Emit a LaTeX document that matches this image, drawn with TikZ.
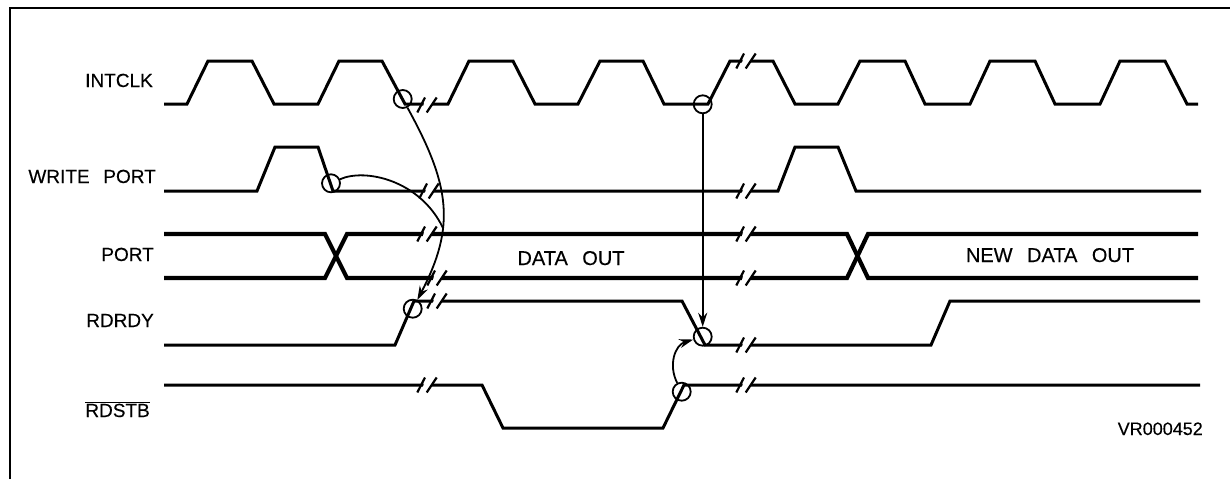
\documentclass[tikz,border=0pt]{standalone}
\usepackage{fontspec}
\setmainfont[WordSpace=2.6,FakeBold=0.3]{Liberation Sans}
\usetikzlibrary{arrows.meta}

\tikzset{
  wave/.style={line width=3pt},
  busline/.style={line width=4.2pt},
  edgering/.style={circle,draw,line width=1.8pt,minimum size=18pt,inner sep=0pt},
  causal/.style={line width=1.8pt},
  sig/.style={inner sep=0pt,font=\fontsize{19}{19}\selectfont},
  breakcut/.pic={
    \fill[white] (-5,7) -- (4.5,7) -- (5,-7) -- (-2,-7) -- cycle;
    \draw[line width=2.2pt] (-9.7,7.5) -- (-2,-7.5) (-0.3,7.5) -- (9.7,-7.5);
  }
}

\begin{document}
\begin{tikzpicture}[x=1pt,y=-1pt,>={Stealth[length=14pt,width=9pt]}]
\useasboundingbox (0,0) rectangle (1230,479);
\draw[line width=2pt] (9.5,479) -- (9.5,7.5) -- (1230,7.5);

% signal names
\node[sig,anchor=base east] (intclk) at (153,87) {INTCLK};
\node[sig,anchor=base east] (wrport) at (156,183) {WRITE PORT};
\node[sig,anchor=base east] (port) at (154,261) {PORT};
\node[sig,anchor=base east] (rdrdy) at (154,327) {RDRDY};
\node[sig,anchor=base east] (rdstb) at (150,417) {$\overline{\mbox{RDSTB}}$};

% waveforms
\draw[wave] (164,104) -- (187,104) -- (208,61) -- (252,61) -- (274,104) -- (318,104) -- (339,61) -- (382,61)
  -- (405,104) -- (448,104) -- (469,61) -- (513,61) -- (535,104) -- (578,104) -- (600,61) -- (643,61)
  -- (664,104) -- (708,104) -- (730,61) -- (773,61) -- (795,104) -- (838,104) -- (860,61) -- (905,61)
  -- (925,104) -- (970,104) -- (990,61) -- (1035,61) -- (1055,104) -- (1100,104) -- (1120,61) -- (1165,61)
  -- (1187,104) -- (1198,104);
\draw[wave] (164,191) -- (257,191) -- (275,147) -- (318,147) -- (333,191) -- (778,191) -- (795,147)
  -- (838,147) -- (856,191) -- (1201,191);
\draw[busline] (164,234) -- (325,234) -- (347,278) -- (847,278) -- (868,234) -- (1198,234);
\draw[busline] (164,278) -- (325,278) -- (347,234) -- (847,234) -- (868,278) -- (1198,278);
\draw[wave] (164,345) -- (395,345) -- (414,301) -- (682,301) -- (705,345) -- (931,345) -- (950,301) -- (1200,301);
\draw[wave] (164,385) -- (482,385) -- (503,428) -- (663,428) -- (684,385) -- (1200,385);

% time breaks
\foreach \x/\y in {427/105,429/191,427/234,437/278,437/301,427/385,
  746/61,746/191,746/234,746/278,746/345,746/385}
  \pic at (\x,\y) {breakcut};

\node (dataout) at (571,265) [anchor=base,font=\fontsize{20}{20}\selectfont,inner sep=0pt] {DATA OUT};
\node (newdata) at (1050,262) [anchor=base,font=\fontsize{20}{20}\selectfont,inner sep=0pt] {NEW DATA OUT};
\node (figcode) at (1203,435) [anchor=base east,font=\fontsize{18}{18}\selectfont,inner sep=0pt] {VR000452};

% edges and what they cause
\node[edgering] (clkfall) at (402.7,99) {};
\node[edgering] (clkrise) at (702.7,104.3) {};
\node[edgering] (wrfall) at (331,183.3) {};
\node[edgering] (rdyrise) at (412.7,308.7) {};
\node[edgering] (rdyfall) at (702.7,336.7) {};
\node[edgering] (stbrise) at (681.7,391.7) {};
\coordinate (merge) at (443,228);

\draw[->,causal] (clkfall) .. controls (450,185) and (456,226) .. (rdyrise);
\draw[causal] (wrfall) .. controls (365,168) and (420,180) .. (merge);
\draw[->,causal] (clkrise) -- (rdyfall);
\draw[->,causal] (stbrise) .. controls (668,365) and (675,345) .. (rdyfall);
\end{tikzpicture}
\end{document}
